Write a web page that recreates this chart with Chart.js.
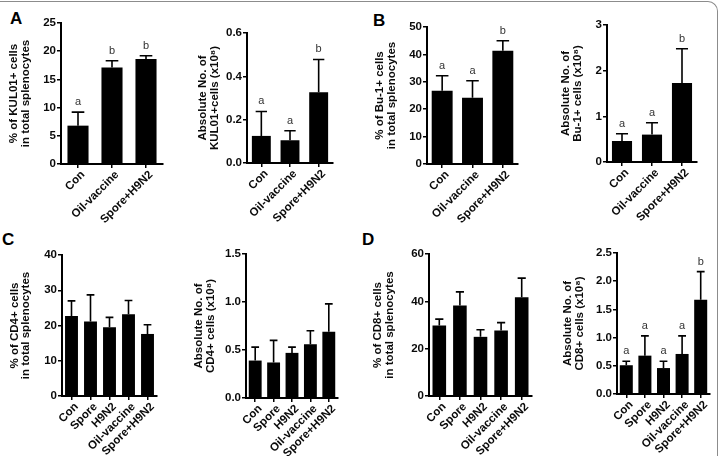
<!DOCTYPE html>
<html>
<head>
<meta charset="utf-8">
<script src="https://cdn.jsdelivr.net/npm/chart.js@4.4.1/dist/chart.umd.min.js"></script>
<style>
  body { margin: 0; background: #fff; }
  #page { position: relative; width: 720px; height: 456px; overflow: hidden; background: #fff; }
  #page canvas { position: absolute; }
  .frame { position: absolute; left: -20px; top: 1px; width: 738px; height: 520px; box-sizing: border-box;
           border-top: 1.5px solid #8c8c8c; border-right: 1.5px solid #8c8c8c; border-top-right-radius: 10px; }
  .tag { position: absolute; font: bold 17px "Liberation Sans", Arial, sans-serif; line-height: 17px; color: #000; }
</style>
</head>
<body>
<div id="page">
  <div class="frame"></div>
  <div class="tag" style="left:10px;top:10px">A</div>
  <div class="tag" style="left:373px;top:12px">B</div>
  <div class="tag" style="left:2px;top:231px">C</div>
  <div class="tag" style="left:362px;top:231px">D</div>
  <canvas id="chart-a1" width="178" height="228" style="left:0;top:0"></canvas>
  <canvas id="chart-a2" width="180" height="228" style="left:178px;top:0"></canvas>
  <canvas id="chart-b1" width="178" height="228" style="left:360px;top:0"></canvas>
  <canvas id="chart-b2" width="182" height="228" style="left:538px;top:0"></canvas>
  <canvas id="chart-c1" width="178" height="228" style="left:0;top:228px"></canvas>
  <canvas id="chart-c2" width="180" height="228" style="left:178px;top:228px"></canvas>
  <canvas id="chart-d1" width="178" height="228" style="left:360px;top:228px"></canvas>
  <canvas id="chart-d2" width="182" height="228" style="left:538px;top:228px"></canvas>
</div>
<script>
/* groups */
const GROUPS3 = ['Con', 'Oil-vaccine', 'Spore+H9N2'];
const GROUPS5 = ['Con', 'Spore', 'H9N2', 'Oil-vaccine', 'Spore+H9N2'];

/* A - KUL01+ */
const KUL_PCT = [6.8, 17.1, 18.6];
const KUL_PCT_ERR = [2.4, 1.2, 0.6];
const KUL_PCT_LETTERS = ['a', 'b', 'b'];
const KUL_ABS = [0.125, 0.105, 0.326];
const KUL_ABS_ERR = [0.113, 0.044, 0.152];
const KUL_ABS_LETTERS = ['a', 'a', 'b'];

/* B - Bu-1+ */
const BU_PCT = [26.7, 24.2, 41.3];
const BU_PCT_ERR = [5.5, 6.2, 3.7];
const BU_PCT_LETTERS = ['a', 'a', 'b'];
const BU_ABS = [0.46, 0.6, 1.73];
const BU_ABS_ERR = [0.16, 0.26, 0.75];
const BU_ABS_LETTERS = ['a', 'a', 'b'];

/* C - CD4+ */
const CD4_PCT = [22.7, 21.1, 19.5, 23.2, 17.6];
const CD4_PCT_ERR = [4.3, 7.6, 2.8, 3.9, 2.6];
const CD4_ABS = [0.39, 0.37, 0.47, 0.56, 0.69];
const CD4_ABS_ERR = [0.14, 0.23, 0.06, 0.14, 0.29];

/* D - CD8+ */
const CD8_PCT = [29.8, 38.2, 25.0, 27.7, 41.7];
const CD8_PCT_ERR = [2.7, 5.8, 3.0, 3.3, 8.1];
const CD8_ABS = [0.51, 0.68, 0.46, 0.71, 1.67];
const CD8_ABS_ERR = [0.07, 0.35, 0.12, 0.32, 0.5];
const CD8_ABS_LETTERS = ['a', 'a', 'a', 'a', 'b'];

const FONT = '"Liberation Sans", Arial, Helvetica, sans-serif';
const INK = '#0a0a0a';

// upper error whisker + cap, and the letter on top
const errorBars = {
    id: 'errorBars',
    afterDatasetsDraw(chart) {
        const ctx = chart.ctx;
        const y = chart.scales.y;
        const ds = chart.data.datasets[0];
        const meta = chart.getDatasetMeta(0);
        ctx.save();
        ctx.strokeStyle = '#000';
        ctx.lineWidth = 1.6;
        ctx.fillStyle = '#333';
        ctx.font = '11px ' + FONT;
        ctx.textAlign = 'center';
        ctx.textBaseline = 'alphabetic';
        meta.data.forEach((bar, i) => {
            const top = y.getPixelForValue(ds.data[i] + ds.errors[i]);
            const half = bar.width * 0.3;
            ctx.beginPath();
            ctx.moveTo(bar.x, bar.y);
            ctx.lineTo(bar.x, top);
            ctx.moveTo(bar.x - half, top);
            ctx.lineTo(bar.x + half, top);
            ctx.stroke();
            if (ds.letters) {
                ctx.fillText(ds.letters[i], bar.x, top - 7);
            }
        });
        ctx.restore();
    }
};

// p: canvas box + wanted plot area in page pixels
function makeChart(p) {
    const el = document.getElementById(p.id);
    const w = el.width, h = el.height;
    const yWidth = p.area.l - p.left;
    const xHeight = p.top + h - p.area.b;
    const options = {
        responsive: false,
        animation: false,
        layout: {
            padding: { left: 0, top: p.area.t - p.top, right: p.left + w - p.area.r, bottom: 0 }
        },
        plugins: {
            legend: { display: false },
            tooltip: { enabled: false }
        },
        scales: {
            x: {
                offset: true,
                border: { display: true, color: '#000', width: 2 },
                grid: { display: true, offset: false, drawOnChartArea: false, drawTicks: true, tickLength: 4, color: '#000', lineWidth: 1.5 },
                ticks: {
                    color: INK, font: { family: FONT, size: 11.5, weight: 'bold' },
                    minRotation: 45, maxRotation: 45, padding: 0, labelOffset: 5, autoSkip: false
                },
                afterFit: (s) => { s.height = xHeight; }
            },
            y: {
                min: 0,
                max: p.max,
                border: { display: true, color: '#000', width: 2 },
                grid: { display: true, drawOnChartArea: false, drawTicks: true, tickLength: 4, color: '#000', lineWidth: 1.5 },
                ticks: {
                    stepSize: p.step,
                    color: INK, font: { family: FONT, size: 11.5, weight: 'bold' }, padding: 1,
                    callback: (v) => v.toFixed(p.digits)
                },
                title: {
                    display: true,
                    text: p.title,
                    color: INK,
                    font: { family: FONT, size: 11.5, weight: 'bold', lineHeight: 1.02 },
                    padding: { top: p.titleX - p.left - 5.9, bottom: 0 }
                },
                afterFit: (s) => { s.width = yWidth; }
            }
        }
    };
    const data = {
        labels: p.labels,
        datasets: [{
            data: p.values,
            errors: p.errors,
            letters: p.letters,
            backgroundColor: '#000',
            borderWidth: 0,
            categoryPercentage: 1,
            barPercentage: p.bar
        }]
    };
    return new Chart(el, { type: 'bar', data, options, plugins: [errorBars] });
}

/* row 1 */
const chartA1 = makeChart({
    id: 'chart-a1', left: 0, top: 0, area: { l: 61, r: 163, t: 23, b: 164 }, titleX: 14,
    labels: GROUPS3, values: KUL_PCT, errors: KUL_PCT_ERR, letters: KUL_PCT_LETTERS,
    max: 25, step: 5, digits: 0, bar: 0.62,
    title: ['% of KUL01+ cells', 'in total splenocytes']
});
const chartA2 = makeChart({
    id: 'chart-a2', left: 178, top: 0, area: { l: 247, r: 333, t: 33, b: 163 }, titleX: 203,
    labels: GROUPS3, values: KUL_ABS, errors: KUL_ABS_ERR, letters: KUL_ABS_LETTERS,
    max: 0.6, step: 0.2, digits: 1, bar: 0.66,
    title: ['Absolute No. of', 'KUL01+cells (x10\u2078)']
});
const chartB1 = makeChart({
    id: 'chart-b1', left: 360, top: 0, area: { l: 427, r: 518, t: 27, b: 164 }, titleX: 380,
    labels: GROUPS3, values: BU_PCT, errors: BU_PCT_ERR, letters: BU_PCT_LETTERS,
    max: 50, step: 10, digits: 0, bar: 0.69,
    title: ['% of Bu-1+ cells', 'in total splenocytes']
});
const chartB2 = makeChart({
    id: 'chart-b2', left: 538, top: 0, area: { l: 607, r: 697, t: 25, b: 162 }, titleX: 566,
    labels: GROUPS3, values: BU_ABS, errors: BU_ABS_ERR, letters: BU_ABS_LETTERS,
    max: 3, step: 1, digits: 0, bar: 0.67,
    title: ['Absolute No. of', 'Bu-1+ cells (x10\u2078)']
});

/* row 2 */
const chartC1 = makeChart({
    id: 'chart-c1', left: 0, top: 228, area: { l: 62, r: 157, t: 255, b: 396 }, titleX: 14.5,
    labels: GROUPS5, values: CD4_PCT, errors: CD4_PCT_ERR,
    max: 40, step: 10, digits: 0, bar: 0.68,
    title: ['% of CD4+ cells', 'in total splenocytes']
});
const chartC2 = makeChart({
    id: 'chart-c2', left: 178, top: 228, area: { l: 246, r: 338, t: 254, b: 398 }, titleX: 199,
    labels: GROUPS5, values: CD4_ABS, errors: CD4_ABS_ERR,
    max: 1.5, step: 0.5, digits: 1, bar: 0.7,
    title: ['Absolute No. of', 'CD4+ cells (x10\u2078)']
});
const chartD1 = makeChart({
    id: 'chart-d1', left: 360, top: 228, area: { l: 429, r: 532, t: 254, b: 396 }, titleX: 378,
    labels: GROUPS5, values: CD8_PCT, errors: CD8_PCT_ERR,
    max: 60, step: 20, digits: 0, bar: 0.66,
    title: ['% of CD8+ cells', 'in total splenocytes']
});
const chartD2 = makeChart({
    id: 'chart-d2', left: 538, top: 228, area: { l: 617, r: 710, t: 253, b: 394 }, titleX: 568,
    labels: GROUPS5, values: CD8_ABS, errors: CD8_ABS_ERR, letters: CD8_ABS_LETTERS,
    max: 2.5, step: 0.5, digits: 1, bar: 0.7,
    title: ['Absolute No. of', 'CD8+ cells (x10\u2078)']
});
</script>
</body>
</html>
